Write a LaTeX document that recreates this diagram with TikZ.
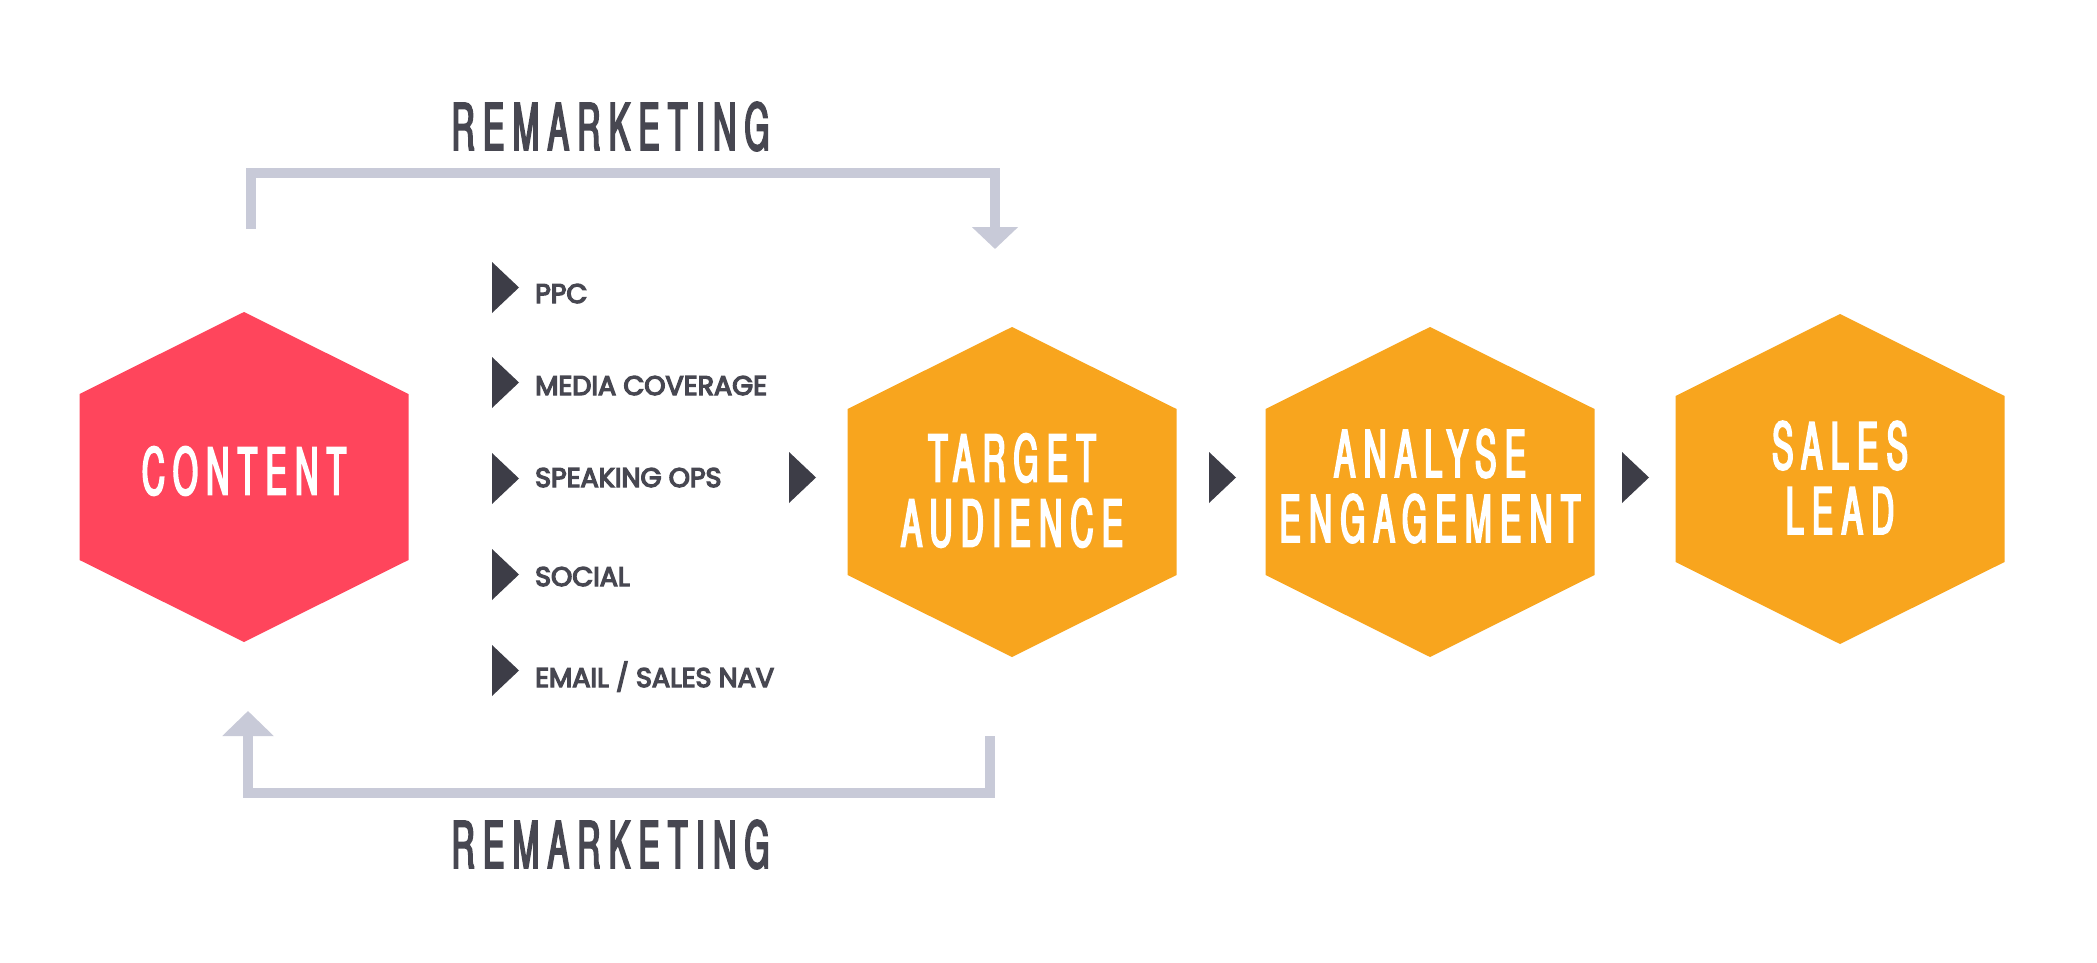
\documentclass[tikz,border=0pt]{standalone}
\usepackage{fontspec}
\usetikzlibrary{arrows.meta,calc}
\newfontfamily\condfont{TeX Gyre Heros}[FakeStretch=0.5,LetterSpace=13,FakeBold=3]
\newfontfamily\listfont{Poppins}[FakeBold=5]
\definecolor{hexred}{HTML}{FF455C}
\definecolor{hexorange}{HTML}{F8A51E}
\definecolor{bracketgrey}{HTML}{C8CAD8}
\definecolor{darktext}{HTML}{474751}
\definecolor{markercol}{HTML}{3D3D47}
\newcommand\myhexfill[2]{\fill[#2] ($(#1)+(-164.5,-83)$) -- ($(#1)+(0,-165)$) -- ($(#1)+(164.5,-83)$) -- ($(#1)+(164.5,83)$) -- ($(#1)+(0,165)$) -- ($(#1)+(-164.5,83)$) -- cycle;}
\newcommand\mytri[2]{\fill[markercol] (#1,#2) -- ({#1+27},{#2+25.5}) -- (#1,{#2+51}) -- cycle;}
\tikzset{
  hextext/.style={inner sep=0pt, text=white, align=center, font=\condfont\fontsize{64}{65}\selectfont},
  remtext/.style={inner sep=0pt, text=darktext, font=\condfont\fontsize{64}{65}\selectfont},
  listtext/.style={inner sep=0pt, anchor=base west, text=darktext, font=\listfont\fontsize{27}{30}\selectfont},
  bracket/.style={draw=bracketgrey, line width=10pt},
}
\begin{document}
\begin{tikzpicture}[x=1pt,y=-1pt]
\useasboundingbox[fill=white] (0,0) rectangle (2097,963);
% hexagon centres
\coordinate (contentC) at (244,477);
\coordinate (targetC) at (1012,492);
\coordinate (analyseC) at (1430,492);
\coordinate (salesC) at (1840,479);
\myhexfill{contentC}{hexred}
\myhexfill{targetC}{hexorange}
\myhexfill{analyseC}{hexorange}
\myhexfill{salesC}{hexorange}
\node[hextext] (content) at (244,471) {CONTENT};
\node[hextext] (target) at (1012,490.5) {TARGET\\AUDIENCE};
\node[hextext] (analyse) at (1430,486) {ANALYSE\\ENGAGEMENT};
\node[hextext] (sales) at (1840,477.5) {SALES\\LEAD};
% list
\node[listtext] (ppc) at (535,303) {PPC};
\node[listtext] (media) at (535,395) {MEDIA COVERAGE};
\node[listtext] (speaking) at (535,487) {SPEAKING OPS};
\node[listtext] (social) at (535,586) {SOCIAL};
\node[listtext] (email) at (535,687) {EMAIL / SALES NAV};
\mytri{492}{262}
\mytri{492}{357}
\mytri{492}{453}
\mytri{492}{549}
\mytri{492}{645}
\mytri{789}{452}
\mytri{1209}{452}
\mytri{1622}{452}
% remarketing loops
\node[remtext] (remtop) at (610.5,126.5) {REMARKETING};
\node[remtext] (rembot) at (610.5,844.5) {REMARKETING};
\coordinate (topstart) at (250.5,229);
\coordinate (topend) at (995,249);
\coordinate (botstart) at (990,736);
\coordinate (botend) at (248,711);
\draw[bracket, -{Triangle[width=45pt,length=22pt]}] (topstart) |- ($(topend)+(0,-75.5)$) -- (topend);
\draw[bracket, -{Triangle[width=50pt,length=25pt]}] (botstart) |- ($(botend)+(0,82)$) -- (botend);
\end{tikzpicture}
\end{document}
